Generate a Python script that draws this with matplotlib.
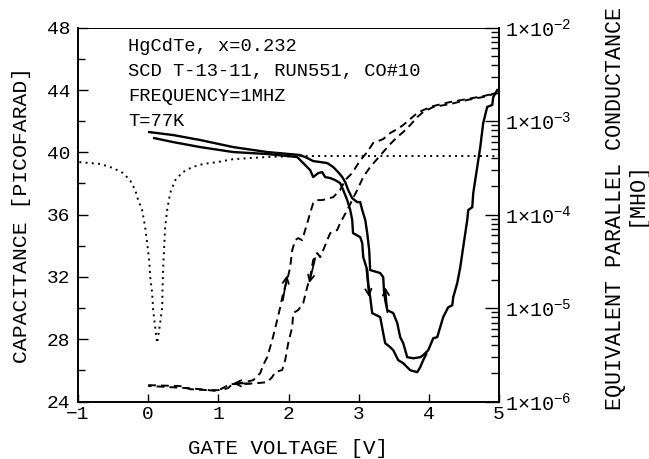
import matplotlib
matplotlib.use("Agg")
import matplotlib.pyplot as plt
from matplotlib.ticker import FixedLocator, FixedFormatter, MultipleLocator, LogLocator, NullFormatter

plt.rcParams['font.family'] = ['Liberation Mono', 'DejaVu Sans Mono', 'DejaVu Sans']
plt.rcParams['mathtext.fontset'] = 'custom'
plt.rcParams['mathtext.rm'] = 'Liberation Mono'
plt.rcParams['mathtext.it'] = 'Liberation Mono'
plt.rcParams['mathtext.bf'] = 'Liberation Mono'

# ---------------- data ----------------
# dotted capacitance curve [pF]
dot_v = [-0.98, -0.68, -0.50, -0.36, -0.26, -0.185, -0.143, -0.086, -0.043, -0.014, 0.014, 0.029,
         0.057, 0.071, 0.100, 0.128, 0.171, 0.200, 0.205, 0.214, 0.228, 0.242, 0.271, 0.314,
         0.385, 0.485, 0.627, 0.784, 0.984, 1.21, 1.70, 2.17, 3.59, 5.0]
dot_c = [39.37, 39.25, 38.99, 38.67, 38.22, 37.58, 36.94, 36.30, 35.21, 34.18, 33.09, 31.99,
         30.96, 29.87, 28.78, 27.75, 29.03, 30.06, 31.3, 32.6, 33.9, 35.2, 36.3, 37.4,
         38.2, 38.7, 39.05, 39.25, 39.37, 39.56, 39.70, 39.76, 39.76, 39.76]

# dashed capacitance, increasing sweep [pF]
cup_v = [0.00, 0.456, 0.599, 0.841, 1.026, 1.140, 1.212, 1.311, 1.497, 1.597, 1.639, 1.697,
         1.768, 1.839, 1.882, 1.924, 1.982, 2.024, 2.053, 2.096, 2.138, 2.195, 2.238, 2.309,
         2.352, 2.409, 2.480, 2.637, 2.737, 2.808, 2.908, 2.979, 3.051, 3.122, 3.207, 3.350,
         3.450, 3.550, 3.635, 3.735, 3.835, 3.920, 4.063, 4.305, 4.547, 4.775, 4.975]
cup_c = [25.05, 24.99, 24.79, 24.73, 24.73, 24.86, 25.18, 25.18, 25.37, 25.82, 26.33, 26.85,
         27.94, 29.23, 30.06, 30.96, 31.80, 32.63, 33.72, 34.36, 34.49, 34.36, 35.01, 36.10,
         36.74, 36.93, 36.93, 37.12, 37.58, 38.22, 38.67, 39.18, 39.63, 40.02, 40.60, 40.85,
         41.24, 41.49, 41.75, 42.14, 42.52, 42.71, 42.97, 43.23, 43.42, 43.61, 43.81]

# dashed capacitance, decreasing sweep [pF]
cdn_v = [4.975, 4.775, 4.547, 4.305, 4.063, 3.920, 3.835, 3.735, 3.635, 3.550, 3.450, 3.350,
         3.264, 3.164, 3.065, 2.979, 2.908, 2.837, 2.737, 2.694, 2.594, 2.552, 2.495, 2.452,
         2.409, 2.352, 2.309, 2.267, 2.210, 2.138, 2.067, 2.053, 1.996, 1.953, 1.910, 1.810,
         1.768, 1.697, 1.554, 1.354, 1.169, 0.984, 0.741, 0.556, 0.00]
cdn_c = [43.81, 43.55, 43.36, 43.10, 42.91, 42.59, 42.26, 41.75, 41.30, 40.98, 40.53, 40.02,
         39.57, 39.05, 38.41, 37.58, 36.93, 36.29, 35.46, 35.01, 34.81, 34.36, 33.72, 33.27,
         33.53, 33.08, 31.99, 31.35, 30.32, 29.87, 29.68, 28.78, 27.75, 26.66, 26.02, 25.89,
         25.57, 25.24, 25.18, 25.12, 25.12, 24.67, 24.79, 24.86, 25.00]

# solid conductance, sweep A [mho]
ga_v = [0.014, 0.356, 0.741, 1.212, 1.697, 2.167, 2.267, 2.352, 2.452, 2.552, 2.637, 2.708,
        2.766, 2.808, 2.851, 2.908, 2.979, 3.022, 3.051, 3.094, 3.122, 3.150, 3.164, 3.307,
        3.350, 3.360, 3.378, 3.407, 3.493, 3.550, 3.592, 3.635, 3.692, 3.778, 3.877, 3.920,
        3.992, 4.063, 4.120, 4.162, 4.205, 4.276, 4.334, 4.348, 4.405, 4.448, 4.490, 4.547,
        4.562, 4.619, 4.633, 4.690, 4.733, 4.775, 4.832, 4.904, 4.918, 4.975]
ga_g = [7.64e-4, 7.10e-4, 6.28e-4, 5.28e-4, 4.67e-4, 4.34e-4, 4.03e-4, 3.74e-4, 3.65e-4, 3.56e-4,
        3.23e-4, 2.85e-4, 2.52e-4, 2.23e-4, 1.83e-4, 1.50e-4, 1.36e-4, 1.36e-4, 1.12e-4, 8.73e-5,
        6.34e-5, 4.17e-5, 2.55e-5, 2.37e-5, 2.14e-5, 1.56e-5, 1.22e-5, 9.51e-6, 8.83e-6, 6.90e-6,
        4.88e-6, 4.21e-6, 2.98e-6, 2.90e-6, 2.98e-6, 3.13e-6, 3.54e-6, 4.76e-6, 4.88e-6, 6.25e-6,
        8.00e-6, 1.02e-5, 1.07e-5, 1.31e-5, 1.85e-5, 2.74e-5, 4.49e-5, 8.73e-5, 1.12e-4, 1.20e-4,
        1.70e-4, 3.23e-4, 5.28e-4, 9.55e-4, 1.42e-3, 1.49e-3, 1.81e-3, 2.15e-3]

# solid conductance, sweep B [mho]
gb_v = [0.086, 0.356, 0.741, 1.212, 1.697, 2.124, 2.210, 2.309, 2.352, 2.423, 2.480, 2.523,
        2.594, 2.666, 2.737, 2.780, 2.837, 2.880, 2.908, 2.920, 3.022, 3.051, 3.065, 3.122,
        3.136, 3.164, 3.193, 3.307, 3.350, 3.378, 3.450, 3.493, 3.564, 3.635, 3.735, 3.835,
        3.877, 3.920, 3.963]
gb_g = [6.59e-4, 5.97e-4, 5.28e-4, 4.67e-4, 4.45e-4, 4.13e-4, 3.56e-4, 2.99e-4, 2.52e-4, 2.78e-4,
        2.85e-4, 2.52e-4, 2.46e-4, 2.34e-4, 2.17e-4, 1.83e-4, 1.43e-4, 1.12e-4, 8.73e-5, 6.34e-5,
        5.74e-5, 4.95e-5, 3.51e-5, 2.55e-5, 1.85e-5, 1.31e-5, 8.83e-6, 8.00e-6, 5.38e-6, 4.21e-6,
        3.81e-6, 3.54e-6, 2.77e-6, 2.57e-6, 2.16e-6, 2.06e-6, 2.33e-6, 2.77e-6, 3.21e-6]

x_ticks = [-1, 0, 1, 2, 3, 4, 5]
c_ticks = [24, 28, 32, 36, 40, 44, 48]
g_ticks = [1e-6, 1e-5, 1e-4, 1e-3, 1e-2]
g_labels = ['$\\mathregular{1×10^{-6}}$', '$\\mathregular{1×10^{-5}}$', '$\\mathregular{1×10^{-4}}$',
            '$\\mathregular{1×10^{-3}}$', '$\\mathregular{1×10^{-2}}$']
info_lines = ['HgCdTe, x=0.232', 'SCD T-13-11, RUN551, CO#10', 'FREQUENCY=1MHZ', 'T=77K']

# ---------------- figure ----------------
fig = plt.figure(figsize=(6.49, 4.59), dpi=100)
ax = fig.add_axes([78 / 649, 1 - 401.5 / 459, 421 / 649, 373.8 / 459])
ax2 = ax.twinx()

k = 'black'
ax.plot(dot_v, dot_c, color=k, lw=1.4, linestyle=(0, (1, 2.2)))
ax.plot(cup_v, cup_c, color=k, lw=1.4, linestyle=(0, (4, 2.6)))
ax.plot(cdn_v, cdn_c, color=k, lw=1.4, linestyle=(0, (4, 2.6)))
ax2.plot(ga_v, ga_g, color=k, lw=1.7)
ax2.plot(gb_v, gb_g, color=k, lw=1.7)

ax.set_xlim(-1, 5)
ax.set_ylim(24, 48)
ax2.set_yscale('log')
ax2.set_ylim(1e-6, 1e-2)

ap = dict(arrowstyle='->', lw=1.3, color=k, mutation_scale=11, shrinkA=0, shrinkB=0)
ax.annotate('', xy=(1.98, 32.1), xytext=(1.92, 30.5), arrowprops=ap)
ax.annotate('', xy=(2.295, 31.6), xytext=(2.38, 33.2), arrowprops=ap)
ax.annotate('', xy=(1.21, 25.18), xytext=(1.45, 25.15), arrowprops=ap)
ax2.annotate('', xy=(3.15, 1.31e-5), xytext=(3.11, 2.6e-5), arrowprops=ap)
ax2.annotate('', xy=(3.378, 1.67e-5), xytext=(3.41, 9.0e-6), arrowprops=ap)

# ticks
ax.xaxis.set_major_locator(FixedLocator(x_ticks))
ax.yaxis.set_major_locator(FixedLocator(c_ticks))
ax.yaxis.set_minor_locator(MultipleLocator(2))
ax.tick_params(axis='x', which='both', direction='in', top=False, length=6, width=1.0,
               labelsize=14, pad=3)
ax.tick_params(axis='y', which='major', direction='in', right=False, length=7, width=1.0,
               labelsize=14, pad=5.5)
ax.tick_params(axis='y', which='minor', direction='in', right=False, length=5, width=1.0)

ax2.yaxis.set_major_locator(FixedLocator(g_ticks))
ax2.yaxis.set_major_formatter(FixedFormatter(g_labels))
ax2.yaxis.set_minor_locator(LogLocator(base=10, subs=range(2, 10), numticks=20))
ax2.yaxis.set_minor_formatter(NullFormatter())
ax2.tick_params(axis='y', which='major', direction='in', length=10, width=1.0, labelsize=14.5, pad=4)
ax2.tick_params(axis='y', which='minor', direction='in', length=6, width=1.0)

for a in (ax, ax2):
    for s in ('left', 'bottom', 'right'):
        a.spines[s].set_linewidth(1.2)
    a.spines['top'].set_linewidth(0.7)

# annotation text
ys = [0.9377, 0.8708, 0.8042, 0.7370]
for line, yy in zip(info_lines, ys):
    ax.text(0.119, yy, line, transform=ax.transAxes, fontsize=13.5, va='baseline', ha='left')

# axis labels
fig.text(288.5 / 649, 1 - 449 / 459, 'GATE VOLTAGE [V]', fontsize=15, ha='center', va='center')
fig.text(22 / 649, 1 - 215 / 459, 'CAPACITANCE [PICOFARAD]', fontsize=15.4, rotation=90,
         ha='center', va='center')
fig.text(615 / 649, 1 - 209 / 459, 'EQUIVALENT PARALLEL CONDUCTANCE', fontsize=15.6, rotation=90,
         ha='center', va='center')
fig.text(636 / 649, 1 - 194 / 459, '[MHO]', fontsize=15.6, rotation=90, ha='center', va='center')

fig.savefig('out.png', dpi=100)
